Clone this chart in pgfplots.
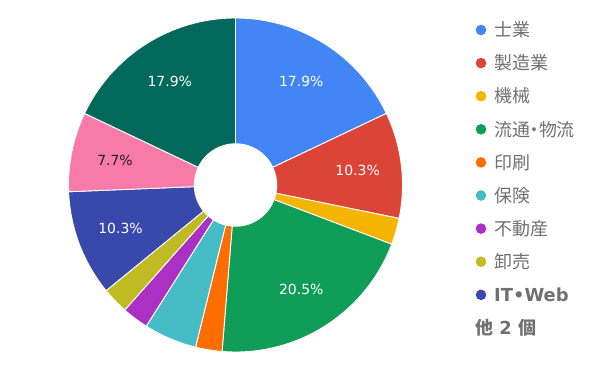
\documentclass[border=0pt]{standalone}
\usepackage{pgfplots}
\pgfplotsset{compat=1.18}
\usepackage{fontspec}
\setmainfont{DejaVu Sans}
\newfontfamily\jp{Noto Sans CJK JP}
\definecolor{cA}{HTML}{4285F4}
\definecolor{cB}{HTML}{DB4437}
\definecolor{cC}{HTML}{F4B400}
\definecolor{cD}{HTML}{0F9D58}
\definecolor{cE}{HTML}{FF6D00}
\definecolor{cF}{HTML}{46BDC6}
\definecolor{cG}{HTML}{AB30C4}
\definecolor{cH}{HTML}{C0BB22}
\definecolor{cI}{HTML}{3949AB}
\definecolor{cJ}{HTML}{F77AA8}
\definecolor{cK}{HTML}{00695C}
\definecolor{legtext}{HTML}{707070}
\definecolor{darklab}{HTML}{222222}
\newcommand\pctfont{\fontsize{14}{16}\selectfont}
\newcommand\legfont{\fontsize{18}{20}\jp\color{legtext}}
\begin{document}
\begin{tikzpicture}
\begin{axis}[width=600bp,height=371bp,scale only axis,
  xmin=0,xmax=600,ymin=0,ymax=371,hide axis,clip=false]
\path (axis cs:0,0) rectangle (axis cs:600,371);
\def\cx{235.5}\def\cy{186}\def\Rout{167}\def\Rin{41.7}\def\tot{39}
\xdef\cum{0}
% slice: colour / count / label text / label colour
\foreach \scol/\sval/\slab/\stc in {cA/7/17.9/white,cB/4/10.3/white,cC/1/2.6/white,cD/8/20.5/white,cE/1/2.6/white,cF/2/5.1/white,cG/1/2.6/white,cH/1/2.6/white,cI/4/10.3/white,cJ/3/7.7/darklab,cK/7/17.9/white}{%
  \pgfmathsetmacro\angA{90-360*\cum/\tot}%
  \pgfmathsetmacro\angB{90-360*(\cum+\sval)/\tot}%
  \pgfmathsetmacro\angM{90-360*(\cum+\sval/2)/\tot}%
  \pgfmathsetmacro\lx{\cx+123*cos(\angM)}%
  \pgfmathsetmacro\ly{\cy+123*sin(\angM)}%
  \edef\temp{\noexpand\fill[fill=\scol,draw=white,line width=0.9bp] (axis cs:\cx,\cy) -- ++(\angA:\Rout bp) arc[start angle=\angA,end angle=\angB,radius=\Rout bp] -- cycle;}%
  \temp
  \ifnum\sval>2
    \edef\temp{\noexpand\node[text=\stc,inner sep=0pt] at (axis cs:\lx,\ly) {\noexpand\pctfont \slab\noexpand\%};}%
    \temp
  \fi
  \pgfmathsetmacro\newcum{\cum+\sval}%
  \xdef\cum{\newcum}%
}
\fill[white] (axis cs:\cx,\cy) circle[radius=\Rin bp];
% legend
\fill[cA] (axis cs:481,341) circle[radius=5.3bp];
\node[anchor=west,inner sep=0pt] at (axis cs:494,341) {\legfont 士業};
\fill[cB] (axis cs:481,307.9) circle[radius=5.3bp];
\node[anchor=west,inner sep=0pt] at (axis cs:494,307.9) {\legfont 製造業};
\fill[cC] (axis cs:481,274.8) circle[radius=5.3bp];
\node[anchor=west,inner sep=0pt] at (axis cs:494,274.8) {\legfont 機械};
\fill[cD] (axis cs:481,241.7) circle[radius=5.3bp];
\node[anchor=west,inner sep=0pt] at (axis cs:494,241.7) {\legfont 流通\kern-0.25em・\kern-0.25em 物流};
\fill[cE] (axis cs:481,208.6) circle[radius=5.3bp];
\node[anchor=west,inner sep=0pt] at (axis cs:494,208.6) {\legfont 印刷};
\fill[cF] (axis cs:481,175.5) circle[radius=5.3bp];
\node[anchor=west,inner sep=0pt] at (axis cs:494,175.5) {\legfont 保険};
\fill[cG] (axis cs:481,142.4) circle[radius=5.3bp];
\node[anchor=west,inner sep=0pt] at (axis cs:494,142.4) {\legfont 不動産};
\fill[cH] (axis cs:481,109.3) circle[radius=5.3bp];
\node[anchor=west,inner sep=0pt] at (axis cs:494,109.3) {\legfont 卸売};
\fill[cI] (axis cs:481,76.2) circle[radius=5.3bp];
\node[anchor=west,inner sep=0pt] at (axis cs:494,76.2) {\fontsize{18}{20}\selectfont\bfseries\color{legtext}IT•Web};
\node[anchor=west,inner sep=0pt] at (axis cs:475,43.1) {\fontsize{18}{20}\selectfont\bfseries\color{legtext}{\jp\bfseries 他} 2 {\jp\bfseries 個}};
\end{axis}
\end{tikzpicture}
\end{document}
